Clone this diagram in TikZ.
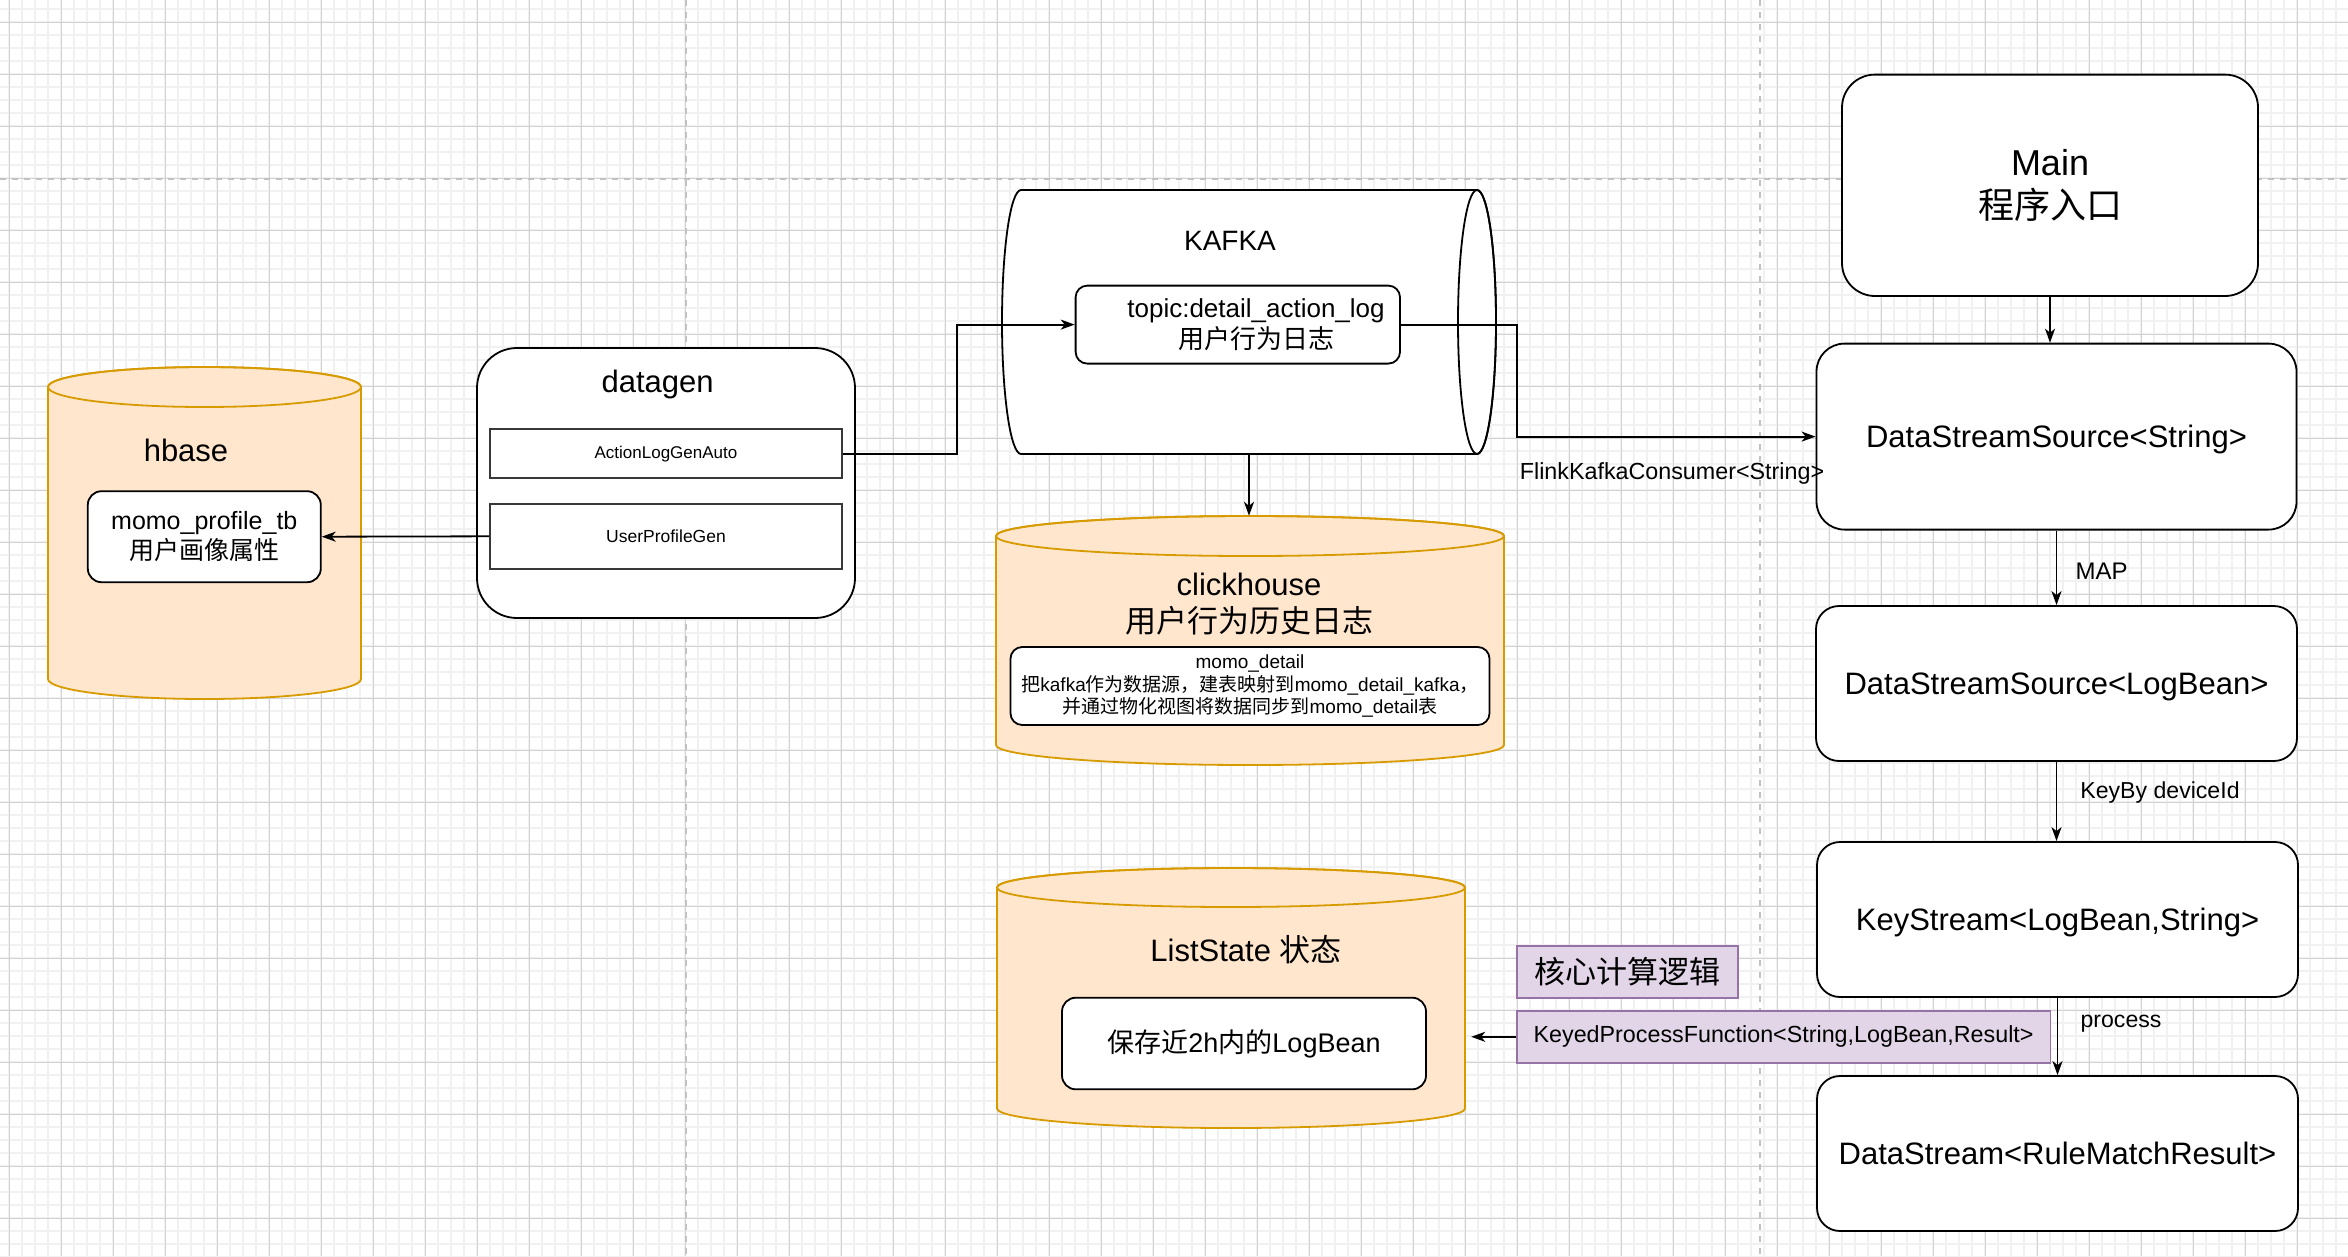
\documentclass[tikz,border=0pt]{standalone}
\usepackage{fontspec}
\setmainfont{Liberation Sans}
\newfontfamily\cjk{Noto Sans CJK SC}
\usetikzlibrary{arrows.meta}
\definecolor{cylfill}{HTML}{FFE6CC}
\definecolor{cylline}{HTML}{D79B00}
\definecolor{purfill}{HTML}{E1D5E7}
\definecolor{purline}{HTML}{9673A6}
\definecolor{gridminor}{HTML}{F1F1F1}
\definecolor{gridmajor}{HTML}{D2D2D2}
\definecolor{pagebreak}{HTML}{C2C2C2}
\newcommand\fsz[2]{\fontsize{#1}{#2}\selectfont}
\begin{document}
\begin{tikzpicture}[x=1pt,y=-1pt,
  box/.style={draw=black, line width=1.8pt, fill=white, align=center, inner sep=0pt, text=black},
  rbox/.style={box, rounded corners=#1},
  gbox/.style={draw=black!78, line width=2pt, fill=white, inner sep=0pt, align=center},
  pbox/.style={draw=purline, fill=purfill, line width=1.8pt, inner sep=0pt, align=center},
  txt/.style={inner sep=0pt, align=center, text=black},
  anchorbox/.style={inner sep=0pt, draw=none, fill=none},
  arr/.style={draw=black, line width=1.8pt, -{Stealth[length=14pt,width=10pt,inset=4pt]}},
  cyl/.style={fill=cylfill, draw=cylline, line width=1.8pt},
  kaf/.style={fill=white, draw=black, line width=1.8pt},
  sl/.style={text depth=0pt},
]
% canvas
\useasboundingbox (0,0) rectangle (2348,1256);
\fill[white] (0,0) rectangle (2348,1256);
\begin{scope}
\clip (0,0) rectangle (2348,1256);
\foreach \i in {0,...,181} {\draw[gridminor, line width=2pt] ({-3.7+13*\i},0) -- ({-3.7+13*\i},1256);}
\foreach \i in {0,...,97} {\draw[gridminor, line width=2pt] (0,{-3.7+13*\i}) -- (2348,{-3.7+13*\i});}
\foreach \i in {0,...,45} {\draw[gridmajor, line width=1.2pt] ({9.3+52*\i},0) -- ({9.3+52*\i},1256);}
\foreach \i in {0,...,24} {\draw[gridmajor, line width=1.2pt] (0,{22.3+52*\i}) -- (2348,{22.3+52*\i});}
\draw[pagebreak, line width=2pt, dash pattern=on 6pt off 6pt] (686,0) -- (686,1256);
\draw[pagebreak, line width=2pt, dash pattern=on 6pt off 6pt] (1760,0) -- (1760,1256);
\draw[pagebreak, line width=2pt, dash pattern=on 6pt off 6pt] (0,179) -- (2348,179);
\end{scope}

% hbase cylinder
\node[anchorbox, minimum width=313pt, minimum height=332pt] (hbase) at (204.5,533) {};
\path[cyl] (48,387) -- (48,679) arc[start angle=180,end angle=360,x radius=156.5pt,y radius=20pt] -- (361,387) arc[start angle=0,end angle=180,x radius=156.5pt,y radius=20pt] -- cycle;
\draw[cyl, fill=none] (204.5,387) ellipse[x radius=156.5pt,y radius=20pt];
\node[txt, font={\fsz{31}{37.2}}] (hbaselbl) at (186,450) {hbase};
\node[rbox=13.7pt, minimum width=233pt, minimum height=91pt, font={\fsz{25}{30}}] (momo) at (204.3,536.7) {momo\_profile\_tb\\{\cjk 用户画像属性}};

% datagen
\node[rbox=40pt, minimum width=378pt, minimum height=270pt] (datagen) at (666,483) {};
\node[txt, font={\fsz{31}{37.2}}] (datagenlbl) at (657.6,384) {datagen};
\node[gbox, minimum width=352pt, minimum height=49pt, font={\fsz{17}{20.4}}] (ala) at (666,453.7) {ActionLogGenAuto};
\node[gbox, minimum width=352pt, minimum height=65pt, font={\fsz{17.5}{21}}] (upg) at (666,536.3) {UserProfileGen};

% kafka cylinder (horizontal)
\node[anchorbox, minimum width=494pt, minimum height=264pt] (kafka) at (1249,322) {};
\path[kaf] (1021,190) -- (1477,190) arc[start angle=90,end angle=-90,x radius=19pt,y radius=132pt] -- (1021,454) arc[start angle=270,end angle=90,x radius=19pt,y radius=132pt] -- cycle;
\draw[kaf, fill=none] (1477,322) ellipse[x radius=19pt,y radius=132pt];
\node[txt, font={\fsz{28}{33.6}}] (kafkalbl) at (1230,240.4) {KAFKA};
\node[rbox=11.7pt, minimum width=324.4pt, minimum height=78pt] (topic) at (1237.8,324.6) {};
\node[txt, font={\fsz{26}{31.2}}] (topiclbl) at (1256,325) {topic:detail\_action\_log\\{\cjk 用户行为日志}};

% clickhouse cylinder
\node[anchorbox, minimum width=508pt, minimum height=249pt] (click) at (1250,640.5) {};
\path[cyl] (996,536) -- (996,745) arc[start angle=180,end angle=360,x radius=254pt,y radius=20pt] -- (1504,536) arc[start angle=0,end angle=180,x radius=254pt,y radius=20pt] -- cycle;
\draw[cyl, fill=none] (1250,536) ellipse[x radius=254pt,y radius=20pt];
\node[txt, font={\fsz{31}{37.2}}] (clicklbl) at (1249,604) {clickhouse\\{\cjk 用户行为历史日志}};
\node[rbox=11.7pt, minimum width=479pt, minimum height=78pt, font={\fsz{19}{22.8}}] (mdetail) at (1250,686) {momo\_detail\\{\cjk 把}kafka{\cjk 作为数据源，建表映射到}momo\_detail\_kafka{\cjk ，}\\{\cjk 并通过物化视图将数据同步到}momo\_detail{\cjk 表}};

% ListState cylinder
\node[anchorbox, minimum width=468pt, minimum height=260pt] (ls) at (1231,998) {};
\path[cyl] (997,887.5) -- (997,1108.5) arc[start angle=180,end angle=360,x radius=234pt,y radius=19.5pt] -- (1465,887.5) arc[start angle=0,end angle=180,x radius=234pt,y radius=19.5pt] -- cycle;
\draw[cyl, fill=none] (1231,887.5) ellipse[x radius=234pt,y radius=19.5pt];
\node[txt, font={\fsz{31}{37.2}}] (lslbl) at (1246,950) {ListState {\cjk 状态}};
\node[rbox=13.8pt, minimum width=364pt, minimum height=91.6pt, font={\fsz{27}{32.4}}] (keep) at (1244,1043.5) {{\cjk 保存近}2h{\cjk 内的}LogBean};

% purple boxes
\node[pbox, minimum width=221.6pt, minimum height=52pt, font={\fsz{31}{37.2}}] (core) at (1627.5,972) {{\cjk 核心计算逻辑}};
\node[pbox, minimum width=533.8pt, minimum height=51.7pt, font={\fsz{23.3}{28}}] (kpf) at (1783.6,1036.8) {KeyedProcessFunction<String,LogBean,Result>};

% right column
\node[rbox=33pt, minimum width=416pt, minimum height=221.4pt, font={\fsz{36}{43.2}}] (main) at (2050,185.3) {Main\\{\cjk 程序入口}};
\node[rbox=28pt, sl, minimum width=480pt, minimum height=186pt, font={\fsz{31}{37.2}}] (dss1) at (2056.5,436.6) {DataStreamSource<String>};
\node[rbox=23pt, sl, minimum width=481pt, minimum height=155pt, font={\fsz{31}{37.2}}] (dss2) at (2056.5,683.5) {DataStreamSource<LogBean>};
\node[rbox=23pt, sl, minimum width=481pt, minimum height=155pt, font={\fsz{31}{37.2}}] (ks) at (2057.5,919.5) {KeyStream<LogBean,String>};
\node[rbox=23pt, sl, minimum width=481pt, minimum height=155pt, font={\fsz{31}{37.2}}] (dsr) at (2057.5,1153.5) {DataStream<RuleMatchResult>};

% connectors
\coordinate (b1) at (957,390);
\coordinate (b2) at (1517,380);
\draw[arr] (upg.west) -- (momo.east);
\draw[arr] (ala.east) -| (b1) |- (topic.west);
\draw[arr] (topic.east) -| (b2) |- (dss1.west);
\draw[arr] (kafka.south) -- (kafka.south |- click.north);
\draw[arr, shorten >=6pt] (kpf.west) -- (kpf.west -| ls.east);
\draw[arr] (main.south) -- (main.south |- dss1.north);
\draw[arr] (dss1.south) -- (dss2.north);
\draw[arr] (dss2.south) -- (dss2.south |- ks.north);
\draw[arr] (ks.south) -- (dsr.north);

% connector labels
\node[txt, font={\fsz{23.3}{28}}] (flk) at (1672,473) {FlinkKafkaConsumer<String>};
\node[txt, font={\fsz{24}{28.8}}] (maplbl) at (2101.5,571.5) {MAP};
\node[txt, font={\fsz{23.1}{27.7}}] (keyby) at (2160,793) {KeyBy deviceId};
\node[txt, font={\fsz{23.1}{27.7}}] (proc) at (2121,1024) {process};
\end{tikzpicture}
\end{document}
